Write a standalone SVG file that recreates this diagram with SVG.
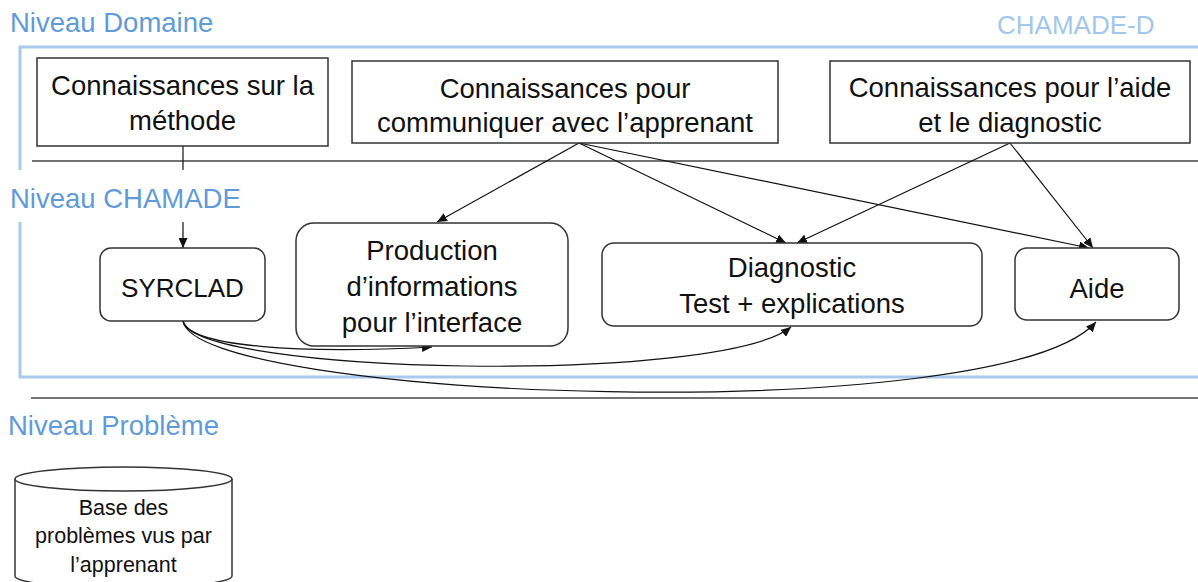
<svg xmlns="http://www.w3.org/2000/svg" width="1198" height="582" viewBox="0 0 1198 582">
<style>
.lvl{font-family:"Liberation Sans",Arial,sans-serif;font-size:27.5px;fill:#5f9bd8}
.lvl2{font-family:"Liberation Sans",Arial,sans-serif;font-size:26px;fill:#a3c6ec}
.t{font-family:"Liberation Sans",Arial,sans-serif;font-size:27.5px;fill:#111;text-anchor:middle}
.t2{font-family:"Liberation Sans",Arial,sans-serif;font-size:26px;fill:#111;text-anchor:middle}
.s{font-family:"Liberation Sans",Arial,sans-serif;font-size:21.5px;fill:#111;text-anchor:middle}
.box{fill:#fff;stroke:#333;stroke-width:1.5}
.frame{fill:none;stroke:#a9caee;stroke-width:3}
.sep{fill:none;stroke:#444;stroke-width:1.5}
.c{fill:none;stroke:#111;stroke-width:1.2}
</style>
<defs>
<marker id="ah" markerUnits="userSpaceOnUse" markerWidth="11" markerHeight="9" refX="10" refY="4.5" orient="auto">
<path d="M0,0 L10,4.5 L0,9 z" fill="#111"/>
</marker>
</defs>
<rect width="1198" height="582" fill="#fff"/>
<g id="frames">
<path class="frame" d="M20,170 L20,47 L1198,47"/>
<path class="frame" d="M20,222 L20,377 L1198,377"/>
<path class="sep" d="M32,161 L1198,161"/>
<path class="sep" d="M31,398 L1198,398"/>
</g>
<g id="labels">
<text class="lvl" x="10" y="32">Niveau Domaine</text>
<text class="lvl2" x="997" y="34">CHAMADE-D</text>
<text class="lvl" x="10" y="208">Niveau CHAMADE</text>
<text class="lvl" x="8" y="435">Niveau Problème</text>
</g>
<g id="connectors">
<path class="c" d="M183,146 L183,170"/>
<path class="c" d="M183,222 L183,248" marker-end="url(#ah)"/>
<path class="c" d="M579,143 L437,222" marker-end="url(#ah)"/>
<path class="c" d="M579,143 L786,243" marker-end="url(#ah)"/>
<path class="c" d="M579,143 L1089,248" marker-end="url(#ah)"/>
<path class="c" d="M1010,143 L797,243" marker-end="url(#ah)"/>
<path class="c" d="M1010,143 L1093,248" marker-end="url(#ah)"/>
<path class="c" d="M183,321 C190,347 300,354 432,347" marker-end="url(#ah)"/>
<path class="c" d="M183,321 C195,375 720,385 791,327" marker-end="url(#ah)"/>
<path class="c" d="M183,321 C195,400 1000,430 1096,322" marker-end="url(#ah)"/>
</g>
<g id="n-methode">
<rect class="box" x="37" y="58" width="291" height="88"/>
<text class="t" x="182.5" y="95">Connaissances sur la</text>
<text class="t" x="182.5" y="130">méthode</text>
</g>
<g id="n-communiquer">
<rect class="box" x="352" y="61" width="426" height="82"/>
<text class="t" x="565" y="98">Connaissances pour</text>
<text class="t" x="565" y="132">communiquer avec l’apprenant</text>
</g>
<g id="n-aide-diag">
<rect class="box" x="830" y="61" width="360" height="82"/>
<text class="t" x="1010" y="97">Connaissances pour l’aide</text>
<text class="t" x="1010" y="132">et le diagnostic</text>
</g>
<g id="n-syrclad">
<rect class="box" x="100" y="248" width="165" height="73" rx="11"/>
<text class="t2" x="182.5" y="297">SYRCLAD</text>
</g>
<g id="n-production">
<rect class="box" x="296" y="223" width="272" height="123" rx="18"/>
<text class="t" x="432" y="260">Production</text>
<text class="t" x="432" y="296">d’informations</text>
<text class="t" x="432" y="332">pour l’interface</text>
</g>
<g id="n-diagnostic">
<rect class="box" x="602" y="243" width="380" height="83" rx="12"/>
<text class="t" x="792" y="277">Diagnostic</text>
<text class="t" x="792" y="313">Test + explications</text>
</g>
<g id="n-aide">
<rect class="box" x="1015" y="248" width="164" height="72" rx="12"/>
<text class="t" x="1097" y="298">Aide</text>
</g>
<g id="n-base">
<path class="box" d="M15,479 L15,576 A108.5,12 0 0 0 232,576 L232,479"/>
<ellipse class="box" cx="123.5" cy="479" rx="108.5" ry="12"/>
<text class="s" x="123.5" y="515">Base des</text>
<text class="s" x="123.5" y="543">problèmes vus par</text>
<text class="s" x="123.5" y="572">l’apprenant</text>
</g>
</svg>
